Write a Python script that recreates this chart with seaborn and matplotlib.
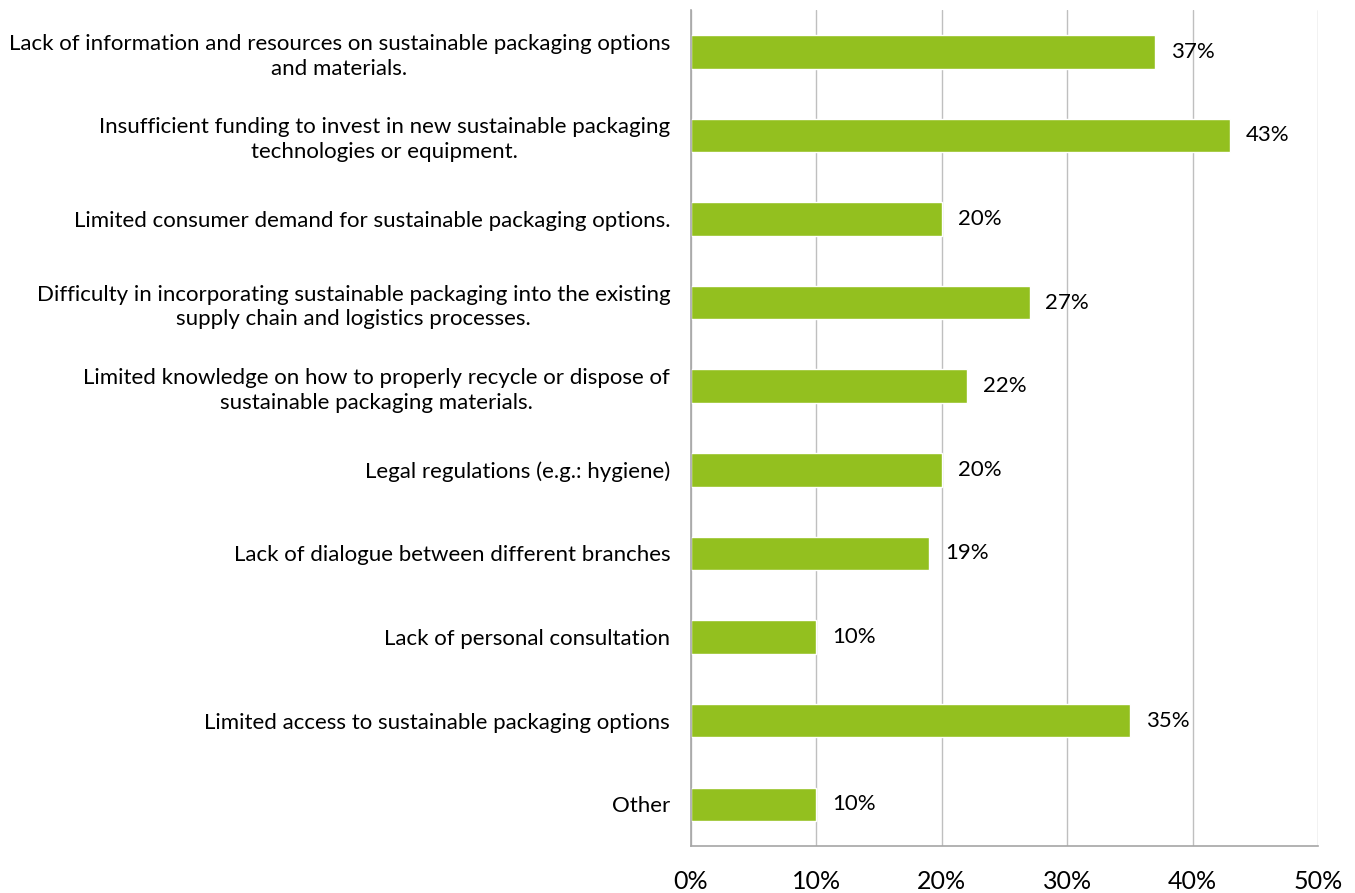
import matplotlib
matplotlib.use("Agg")
import matplotlib.pyplot as plt
import seaborn as sns
import pandas as pd
from matplotlib.ticker import FuncFormatter

categories = [
    "Lack of information and resources on sustainable packaging options\nand materials.",
    "Insufficient funding to invest in new sustainable packaging\ntechnologies or equipment.",
    "Limited consumer demand for sustainable packaging options.",
    "Difficulty in incorporating sustainable packaging into the existing\nsupply chain and logistics processes.",
    "Limited knowledge on how to properly recycle or dispose of\nsustainable packaging materials.",
    "Legal regulations (e.g.: hygiene)",
    "Lack of dialogue between different branches",
    "Lack of personal consultation",
    "Limited access to sustainable packaging options",
    "Other",
]
shares = [37, 43, 20, 27, 22, 20, 19, 10, 35, 10]
x_ticks = [0, 10, 20, 30, 40, 50]

df = pd.DataFrame({"category": categories, "share": shares})

sns.set_theme(style="white")
plt.rcParams["font.family"] = ["Lato", "DejaVu Sans"]

fig = plt.figure(figsize=(13.55, 8.93), dpi=100)
ax = fig.add_axes([0.510, 0.0526, 0.4627, 0.9362])

sns.barplot(data=df, x="share", y="category", orient="h", color="#93C01F",
            saturation=1, width=0.4, ax=ax)

ax.set_xlim(0, 50)
ax.set_ylim(len(categories) - 0.5, -0.5)
ax.set_xticks(x_ticks)
ax.xaxis.set_major_formatter(FuncFormatter(lambda v, _: f"{v:.0f}%"))
ax.set_xlabel("")
ax.set_ylabel("")
ax.grid(axis="x", color="#BFBFBF", linewidth=1)
ax.set_axisbelow(True)
for side in ["top", "right"]:
    ax.spines[side].set_visible(False)
for side in ["left", "bottom"]:
    ax.spines[side].set_color("#A6A6A6")
    ax.spines[side].set_linewidth(1.2)

ax.tick_params(axis="x", length=0, pad=17, labelsize=18, colors="#000000")
ax.tick_params(axis="y", length=0, pad=15, labelsize=16, colors="#000000")
for lbl in ax.get_yticklabels():
    lbl.set_horizontalalignment("right")
    lbl.set_multialignment("center")
    lbl.set_linespacing(1.3)

for i, v in enumerate(shares):
    ax.text(v + 1.25, i, f"{v}%", va="center", ha="left", fontsize=16, color="#000000")

fig.savefig("out.png", dpi=100)
